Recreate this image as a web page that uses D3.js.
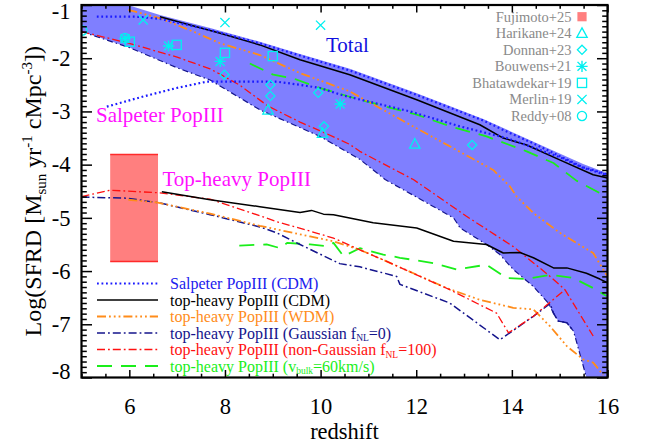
<!DOCTYPE html>
<html>
<head>
<meta charset="utf-8">
<script src="https://cdn.jsdelivr.net/npm/d3@7/dist/d3.min.js"></script>
<style>
  body { margin: 0; background: #fff; }
  svg { display: block; font-family: "Liberation Serif", "Times New Roman", serif; }
</style>
</head>
<body>
<svg id="chart" width="649" height="444"></svg>
<script>
// ---- Shaded range between the model totals ----
const bandUpperZ = [5.0, 5.97, 6.64, 7.69, 8.73, 9.57, 10.61, 12.01, 13.4, 14.45, 15.49, 16.0];
const bandUpperV = [-1.0, -1.0, -1.19, -1.43, -1.69, -1.92, -2.2, -2.66, -3.14, -3.57, -3.99, -4.16];
const bandLowerZ = [5.0, 6.0, 7.0, 7.69, 8.73, 9.99, 10.82, 11.35, 12.78, 12.92, 13.47, 13.75, 14.03, 14.45, 14.76, 14.87, 14.97, 15.15, 15.29, 15.56, 16.0];
const bandLowerV = [-1.5, -1.8, -2.18, -2.41, -2.97, -3.47, -3.9, -4.28, -5.0, -5.19, -5.5, -5.69, -5.97, -6.29, -6.6, -6.79, -6.94, -6.97, -7.13, -8.0, -8.0];

// ---- Total SFRD (Pop II + Pop III) per model ----
const totSalpZ = [5.32, 6.15, 6.64, 7.69, 8.73, 9.57, 10.61, 12.01, 13.4, 13.9, 14.45, 15.0, 15.49, 16.0];
const totSalpV = [-1.22, -1.22, -1.26, -1.47, -1.72, -1.95, -2.23, -2.69, -3.17, -3.38, -3.6, -3.84, -4.05, -4.18];
const totCdmZ = [6.64, 7.9, 8.73, 9.57, 10.61, 12.01, 13.33, 13.82, 14.31, 15.0, 15.7, 16.0];
const totCdmV = [-1.22, -1.53, -1.75, -2.03, -2.31, -2.78, -3.25, -3.5, -3.63, -3.91, -4.19, -4.25];
const totWdmZ = [5.98, 6.64, 7.34, 7.9, 8.73, 9.57, 10.6, 11.87, 12.71, 13.61, 13.96, 14.1, 14.45, 15.0, 15.7, 15.91, 16.0];
const totWdmV = [-1.09, -1.25, -1.5, -1.72, -1.94, -2.28, -2.62, -3.25, -3.66, -4.1, -4.41, -4.6, -4.91, -5.28, -5.66, -5.97, -6.1];
const totNgZ = [5.0, 6.0, 7.0, 7.69, 8.3, 8.9, 9.57, 10.13, 10.61, 10.82, 11.24, 11.94, 13.05, 14.03, 14.8, 15.11, 15.7];
const totNgV = [-1.5, -1.72, -1.98, -2.2, -2.5, -2.9, -3.2, -3.42, -3.62, -3.75, -3.95, -4.28, -4.97, -5.54, -6.1, -6.35, -7.22];
const totVbZ = [8.52, 9.01, 9.43, 9.99, 10.82, 12.01, 12.71, 13.47, 14.31, 14.87, 15.35, 15.98];
const totVbV = [-2.1, -2.31, -2.38, -2.56, -2.78, -3.06, -3.28, -3.47, -3.75, -3.97, -4.3, -4.6];

// ---- Pop III SFRD per model ----
const p3SalpZ = [5.53, 6.29, 6.99, 7.62, 8.17, 9.08, 9.57, 9.99, 10.47, 11.87, 12.91, 13.89, 14.45, 15.0, 15.49, 16.0];
const p3SalpV = [-2.91, -2.72, -2.56, -2.44, -2.44, -2.44, -2.5, -2.56, -2.7, -3.0, -3.28, -3.5, -3.68, -3.86, -4.06, -4.2];
const p3CdmZ = [6.68, 7.69, 8.73, 9.57, 9.81, 10.06, 10.27, 11.1, 12.01, 12.78, 13.47, 13.82, 14.17, 14.45, 14.87, 15.15, 15.56, 15.84, 16.0];
const p3CdmV = [-4.51, -4.66, -4.79, -4.9, -4.86, -4.93, -4.94, -5.09, -5.19, -5.44, -5.5, -5.66, -5.65, -5.75, -5.94, -5.94, -6.04, -6.15, -6.22];
const p3WdmZ = [5.98, 6.57, 7.69, 8.73, 9.78, 10.27, 10.82, 11.31, 12.64, 13.33, 14.03, 14.45, 14.8, 15.15, 15.49, 15.7, 15.91];
const p3WdmV = [-4.66, -4.71, -4.92, -5.15, -5.35, -5.44, -5.6, -5.79, -6.32, -6.54, -6.69, -6.72, -7.04, -7.41, -7.66, -7.72, -7.95];
const p3GaussZ = [5.0, 5.95, 6.64, 7.69, 8.73, 9.08, 9.57, 10.4, 10.82, 11.59, 11.66, 12.7, 13.75, 14.45, 14.8, 14.87, 14.97, 15.15, 15.29];
const p3GaussV = [-4.61, -4.63, -4.72, -4.94, -5.17, -5.28, -5.5, -5.86, -5.92, -6.1, -6.25, -6.6, -7.29, -6.85, -6.61, -6.79, -6.94, -6.97, -7.13];
const p3NgZ = [5.0, 5.6, 6.64, 7.69, 8.73, 9.08, 9.78, 10.27, 10.82, 11.31, 12.7, 13.68, 13.93, 14.45, 15.11];
const p3NgV = [-4.6, -4.48, -4.53, -4.65, -4.96, -5.07, -5.25, -5.38, -5.6, -5.79, -6.35, -6.79, -7.16, -6.85, -6.35];
const p3VbZ = [8.3, 8.87, 9.16, 9.3, 9.78, 10.13, 10.27, 10.48, 10.82, 11.31, 11.66, 12.36, 12.85, 13.47, 13.89, 14.31, 14.8, 15.28, 15.7, 15.98];
const p3VbV = [-5.52, -5.5, -5.57, -5.47, -5.5, -5.53, -5.47, -5.72, -5.57, -5.69, -5.75, -5.85, -5.97, -5.88, -6.13, -6.15, -6.07, -6.13, -6.32, -6.47];

// ---- Observations ----
const harikaneZ = [8.9, 10.04, 11.97];
const harikaneV = [-2.97, -3.41, -3.61];
const donnanZ = [7.99, 8.95, 8.95, 9.95, 10.07, 13.17];
const donnanV = [-2.31, -2.5, -2.71, -2.65, -3.28, -3.63];
const bouwensZ = [5.91, 6.82, 7.9, 10.41];
const bouwensV = [-1.63, -1.77, -2.06, -2.86];
const bhatZ = [6.01, 6.99, 8.0, 9.0];
const bhatV = [-1.69, -1.75, -1.9, -1.96];
const merlinZ = [6.29, 8.0, 10.0];
const merlinV = [-1.28, -1.33, -1.38];
const reddyZ = [5.02, 5.91];
const reddyV = [-1.48, -1.62];
const fujimotoZ = [5.6, 6.6];
const fujimotoV = [-5.82, -3.81];

const obsNames = ["Fujimoto+25", "Harikane+24", "Donnan+23", "Bouwens+21", "Bhatawdekar+19", "Merlin+19", "Reddy+08"];
const xTicks = [6, 8, 10, 12, 14, 16];
const yTicks = [-8, -7, -6, -5, -4, -3, -2, -1];

// ---- Layout ----
const svg = d3.select("#chart");
const L = 81.5, R = 607.5, T = 5, B = 377.5;
const x = d3.scaleLinear().domain([5, 16]).range([L, R]);
const y = d3.scaleLinear().domain([-8, -1]).range([B, T]);

svg.append("rect").attr("width", 649).attr("height", 444).attr("fill", "#fff");
svg.append("defs").append("clipPath").attr("id", "plotclip")
  .append("rect").attr("x", L).attr("y", T).attr("width", R - L).attr("height", B - T);

const plot = svg.append("g").attr("clip-path", "url(#plotclip)");
const zip = (zs, vs) => zs.map((z, i) => [z, vs[i]]);
const line = d3.line().x(d => x(d[0])).y(d => y(d[1]));

// shaded band
const upper = zip(bandUpperZ, bandUpperV);
const lower = zip(bandLowerZ, bandLowerV);
const bandPts = upper.concat(lower.slice().reverse());
plot.append("path").attr("d", line(bandPts) + "Z").attr("fill", "#7f7fff").attr("stroke", "none");

// Fujimoto+25 box
plot.append("rect")
  .attr("x", x(fujimotoZ[0])).attr("width", x(fujimotoZ[1]) - x(fujimotoZ[0]))
  .attr("y", y(fujimotoV[1])).attr("height", y(fujimotoV[0]) - y(fujimotoV[1]))
  .attr("fill", "#ff7f7f");
[fujimotoV[0], fujimotoV[1]].forEach(v => {
  plot.append("line").attr("x1", x(fujimotoZ[0])).attr("x2", x(fujimotoZ[1]))
    .attr("y1", y(v)).attr("y2", y(v)).attr("stroke", "#ff2a2a").attr("stroke-width", 1.5);
});

const styles = {
  salp:  { stroke: "#1a1aff", width: 2.2, dash: "1.8,2.7" },
  cdm:   { stroke: "#000000", width: 1.5, dash: null },
  wdm:   { stroke: "#ff8c1a", width: 1.8, dash: "9,3,1.8,3,1.8,3,1.8,3" },
  gauss: { stroke: "#14148c", width: 1.5, dash: "8,3,1.8,3" },
  ng:    { stroke: "#ff1010", width: 1.3, dash: "8,3,1.8,3" },
  vb:    { stroke: "#1aee1a", width: 1.8, dash: "15,9" }
};
function drawLine(g, pts, st) {
  g.append("path").attr("d", line(pts)).attr("fill", "none")
    .attr("stroke", st.stroke).attr("stroke-width", st.width)
    .attr("stroke-dasharray", st.dash).attr("stroke-linejoin", "round");
}

// band lower edge (Gaussian total)
drawLine(plot, lower, { stroke: "#14148c", width: 1.2, dash: "6,3,1.5,3" });

// totals
drawLine(plot, zip(totNgZ, totNgV), styles.ng);
drawLine(plot, zip(totVbZ, totVbV), styles.vb);
drawLine(plot, zip(totWdmZ, totWdmV), styles.wdm);
drawLine(plot, zip(totCdmZ, totCdmV), styles.cdm);
drawLine(plot, zip(totSalpZ, totSalpV), styles.salp);

// Pop III
drawLine(plot, zip(p3VbZ, p3VbV), styles.vb);
drawLine(plot, zip(p3GaussZ, p3GaussV), styles.gauss);
drawLine(plot, zip(p3WdmZ, p3WdmV), styles.wdm);
drawLine(plot, zip(p3NgZ, p3NgV), styles.ng);
drawLine(plot, zip(p3CdmZ, p3CdmV), styles.cdm);
drawLine(plot, zip(p3SalpZ, p3SalpV), styles.salp);

// ---- Observation symbols ----
const CY = "#00f0f0";
function marker(g, kind, cx, cy) {
  const s = g.append("g").attr("transform", `translate(${cx},${cy})`)
    .attr("fill", "none").attr("stroke", CY).attr("stroke-width", 1.3);
  const r = 4.6;
  if (kind === "tri") s.append("path").attr("d", `M0,${-r - 0.8}L${r + 0.6},${r - 0.4}L${-r - 0.6},${r - 0.4}Z`);
  else if (kind === "dia") s.append("path").attr("d", `M0,${-r}L${r},0L0,${r}L${-r},0Z`);
  else if (kind === "sq") s.append("rect").attr("x", -r).attr("y", -r).attr("width", 2 * r).attr("height", 2 * r);
  else if (kind === "circ") s.append("circle").attr("r", r);
  else if (kind === "x") s.append("path").attr("d", `M${-r},${-r}L${r},${r}M${-r},${r}L${r},${-r}`);
  else if (kind === "ast") {
    const a = 5.6, b = a * 0.8;
    s.append("path").attr("d", `M0,${-a}L0,${a}M${-a},0L${a},0M${-b},${-b}L${b},${b}M${-b},${b}L${b},${-b}`).attr("stroke-width", 1.4);
  }
  else if (kind === "fill") s.append("rect").attr("x", -r).attr("y", -r).attr("width", 2 * r).attr("height", 2 * r).attr("fill", "#ff7f7f").attr("stroke", "none");
}
const obsSets = [
  ["tri", harikaneZ, harikaneV], ["dia", donnanZ, donnanV], ["ast", bouwensZ, bouwensV],
  ["sq", bhatZ, bhatV], ["x", merlinZ, merlinV], ["circ", reddyZ, reddyV]
];
obsSets.forEach(([k, zs, vs]) => zs.forEach((z, i) => marker(plot, k, x(z), y(vs[i]))));

// ---- In-plot annotations ----
svg.append("text").attr("x", 326).attr("y", 52).attr("font-size", 21).attr("fill", "#1010e0").text("Total");
svg.append("text").attr("x", 96).attr("y", 121.5).attr("font-size", 21).attr("fill", "#ff10ff").text("Salpeter PopIII");
svg.append("text").attr("x", 162.5).attr("y", 185.5).attr("font-size", 21).attr("fill", "#ff10ff").text("Top-heavy PopIII");

// ---- Observation legend (top right) ----
const obsKinds = ["fill", "tri", "dia", "ast", "sq", "x", "circ"];
obsNames.forEach((n, i) => {
  const cy = 16.7 + i * 16.55;
  svg.append("text").attr("x", 571.5).attr("y", cy + 5).attr("text-anchor", "end")
    .attr("font-size", 14.5).attr("fill", "#8a8a8a").text(n);
  marker(svg, obsKinds[i], 582, cy);
});

// ---- Model legend (bottom left) ----
const modelLegend = [
  { st: styles.salp, color: "#2020ee", parts: [["Salpeter PopIII (CDM)"]] },
  { st: styles.cdm, color: "#000000", parts: [["top-heavy PopIII (CDM)"]] },
  { st: styles.wdm, color: "#ff8c1a", parts: [["top-heavy PopIII (WDM)"]] },
  { st: styles.gauss, color: "#14148c", parts: [["top-heavy PopIII (Gaussian f"], ["NL", "sub"], ["=0)"]] },
  { st: styles.ng, color: "#ff1010", parts: [["top-heavy PopIII (non-Gaussian f"], ["NL", "sub"], ["=100)"]] },
  { st: styles.vb, color: "#1aee1a", parts: [["top-heavy PopIII (v"], ["bulk", "sub"], ["=60km/s)"]] }
];
modelLegend.forEach((m, i) => {
  const cy = 283.5 + i * 16.5;
  svg.append("line").attr("x1", 97).attr("x2", 158).attr("y1", cy).attr("y2", cy)
    .attr("stroke", m.st.stroke).attr("stroke-width", m.st.width).attr("stroke-dasharray", m.st.dash);
  const t = svg.append("text").attr("x", 170).attr("y", cy + 5.5).attr("font-size", 16).attr("fill", m.color);
  let shifted = false;
  m.parts.forEach(p => {
    const ts = t.append("tspan").text(p[0]);
    if (p[1] === "sub") { ts.attr("font-size", 9.5).attr("dy", 2.5); shifted = true; }
    else if (shifted) { ts.attr("dy", -2.5); shifted = false; }
  });
});

// ---- Axes ----
const axG = svg.append("g");
const xMinor = d3.range(5, 16.001, 0.5).filter(v => v % 2 !== 0);
const yMinor = d3.range(-8, -0.999, 0.1).map(v => +v.toFixed(1)).filter(v => Math.abs(v - Math.round(v)) > 1e-6);
function styleAxis(g) {
  g.select(".domain").remove();
  g.selectAll("line").attr("stroke", "#000").attr("stroke-width", 1.5);
  g.selectAll("text").attr("font-size", 22.5).attr("fill", "#000").attr("font-family", '"Liberation Serif","Times New Roman",serif');
}
// bottom
axG.append("g").attr("transform", `translate(0,${B})`)
  .call(d3.axisBottom(x).tickValues(xTicks).tickSize(-7.5).tickPadding(21).tickFormat(d3.format("d"))).call(styleAxis);
axG.append("g").attr("transform", `translate(0,${B})`)
  .call(d3.axisBottom(x).tickValues(xMinor).tickSize(-3.8).tickFormat("")).call(styleAxis);
// top
axG.append("g").attr("transform", `translate(0,${T})`)
  .call(d3.axisTop(x).tickValues(xTicks).tickSize(-7.5).tickFormat("")).call(styleAxis);
axG.append("g").attr("transform", `translate(0,${T})`)
  .call(d3.axisTop(x).tickValues(xMinor).tickSize(-3.8).tickFormat("")).call(styleAxis);
// left
const yFmt = d => (d < 0 ? "-" : "") + Math.abs(d);
const yl = axG.append("g").attr("transform", `translate(${L},0)`)
  .call(d3.axisLeft(y).tickValues(yTicks).tickSize(-10.5).tickPadding(11).tickFormat(yFmt)).call(styleAxis);
yl.selectAll(".tick").filter(d => d === -1).select("text").attr("dy", "0.62em");
yl.selectAll(".tick").filter(d => d === -8).select("text").attr("dy", "0.05em");
axG.append("g").attr("transform", `translate(${L},0)`)
  .call(d3.axisLeft(y).tickValues(yMinor).tickSize(-5.3).tickFormat("")).call(styleAxis);
// right
axG.append("g").attr("transform", `translate(${R},0)`)
  .call(d3.axisRight(y).tickValues(yTicks).tickSize(-10.5).tickFormat("")).call(styleAxis);
axG.append("g").attr("transform", `translate(${R},0)`)
  .call(d3.axisRight(y).tickValues(yMinor).tickSize(-5.3).tickFormat("")).call(styleAxis);

// frame
svg.append("rect").attr("x", L).attr("y", T).attr("width", R - L).attr("height", B - T)
  .attr("fill", "none").attr("stroke", "#000").attr("stroke-width", 2.2);

// axis titles
svg.append("text").attr("x", (L + R) / 2).attr("y", 439).attr("text-anchor", "middle")
  .attr("font-size", 22.5).text("redshift");
const yt = svg.append("text").attr("transform", `translate(41,${(T + B) / 2}) rotate(-90)`)
  .attr("text-anchor", "middle").attr("font-size", 24);
yt.append("tspan").text("Log(SFRD [M");
yt.append("tspan").attr("font-size", 15).attr("dy", 5).text("sun");
yt.append("tspan").attr("dy", -5).text(" yr");
yt.append("tspan").attr("font-size", 15).attr("dy", -9).text("-1");
yt.append("tspan").attr("dy", 9).text(" cMpc");
yt.append("tspan").attr("font-size", 15).attr("dy", -9).text("-3");
yt.append("tspan").attr("dy", 9).text("])");
</script>
</body>
</html>
